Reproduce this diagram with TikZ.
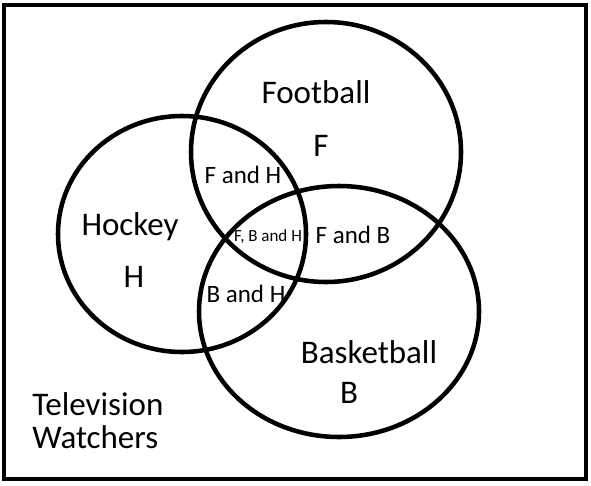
\documentclass[tikz,border=0pt]{standalone}
\usepackage{fontspec}
\setmainfont{Carlito}
\begin{document}
\begin{tikzpicture}[x=0.75pt,y=-0.75pt,
  frame/.style={draw=black,line width=3.4pt},
  ring/.style={draw=black,line width=3.4pt},
  big/.style={font=\fontsize{24.75}{24.75}\selectfont,inner sep=0pt,anchor=base},
  mid/.style={font=\fontsize{18.75}{18.75}\selectfont,inner sep=0pt,anchor=base},
  small/.style={font=\fontsize{12.75}{12.75}\selectfont,inner sep=0pt,anchor=base}]
\useasboundingbox (0,0) rectangle (591,485);
\draw[frame] (4,5) rectangle (586,479);
% circles
\draw[ring] (326,152) ellipse [x radius=135, y radius=130];
\draw[ring] (182,234) ellipse [x radius=124, y radius=118];
\draw[ring] (339,311.5) ellipse [x radius=140, y radius=125.5];
% labels
\node[big] (football) at (316,103) {Football};
\node[big] (f) at (321,156) {F};
\node[big] (hockey) at (130,235) {Hockey};
\node[big] (h) at (134,287) {H};
\node[big] (basketball) at (369,363) {Basketball};
\node[big] (b) at (349,403) {B};
\node[mid] (fh) at (243,183) {F and H};
\node[small] (fbh) at (268,241) {F, B and H};
\node[mid] (fb) at (353,243) {F and B};
\node[mid] (bh) at (246,302) {B and H};
\node[big,anchor=base west] (tv1) at (32,415) {Television};
\node[big,anchor=base west] (tv2) at (32,448) {Watchers};
\end{tikzpicture}
\end{document}
